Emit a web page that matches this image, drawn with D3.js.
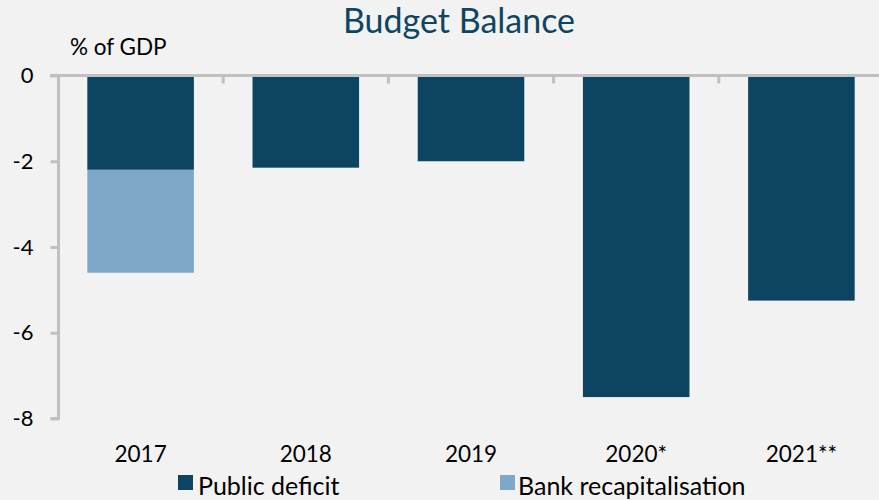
<!DOCTYPE html>
<html>
<head>
<meta charset="utf-8">
<script src="https://cdn.jsdelivr.net/npm/d3@7"></script>
<style>
  html, body { margin: 0; padding: 0; background: #f2f2f2; }
  svg { display: block; font-family: Lato, "Open Sans", sans-serif; }
</style>
</head>
<body>
<svg id="chart" width="879" height="500"></svg>
<script>
// Budget balance, % of GDP
const years = ["2017", "2018", "2019", "2020*", "2021**"];
const publicDeficit = [-2.2, -2.15, -2.0, -7.5, -5.25];
const bankRecap = [-2.4, 0, 0, 0, 0];
const yTicks = [0, -2, -4, -6, -8];
const seriesNames = ["Public deficit", "Bank recapitalisation"];
const colors = ["#0d4461", "#7fa7c9"];

const svg = d3.select("#chart");
const W = 879, H = 500;
svg.append("rect").attr("width", W).attr("height", H).attr("fill", "#f2f2f2");

const x = d3.scaleBand().domain(years).range([58, 884]).paddingInner(0.355).paddingOuter(0.1775);
const y = d3.scaleLinear().domain([-8, 0]).range([418.5, 75.5]);

const axisColor = "#c0c0c0";

// stacked rows
const rows = years.map((yr, i) => ({ year: yr, deficit: publicDeficit[i], recap: bankRecap[i] }));

// public deficit bars
svg.append("g").selectAll("rect").data(rows).join("rect")
  .attr("x", d => x(d.year))
  .attr("width", x.bandwidth())
  .attr("y", y(0))
  .attr("height", d => y(d.deficit) - y(0))
  .attr("fill", colors[0]);

// bank recapitalisation stacked below
svg.append("g").selectAll("rect").data(rows.filter(d => d.recap !== 0)).join("rect")
  .attr("x", d => x(d.year))
  .attr("width", x.bandwidth())
  .attr("y", d => y(d.deficit))
  .attr("height", d => y(d.deficit + d.recap) - y(d.deficit))
  .attr("fill", colors[1]);

// value axis
const yAxis = d3.axisLeft(y).tickValues(yTicks).tickSize(8).tickPadding(17).tickFormat(d3.format("d"));
const gy = svg.append("g").attr("transform", "translate(58.5,0)").call(yAxis);
gy.select(".domain").attr("stroke", axisColor).attr("stroke-width", 3)
  .attr("d", `M-8,${y(-8)}H0V${y(0)}`);
gy.selectAll(".tick line").attr("stroke", axisColor).attr("stroke-width", 3);
gy.selectAll(".tick text").attr("fill", "#000").attr("font-size", 22)
  .attr("font-family", "Lato, sans-serif").text(d => d === 0 ? "0" : "-" + Math.abs(d));

// zero line along the category axis
svg.append("line").attr("x1", 50).attr("x2", W).attr("y1", y(0)).attr("y2", y(0))
  .attr("stroke", axisColor).attr("stroke-width", 3);
// boundary ticks between categories
const step = x.step();
const bounds = years.slice(1).map(yr => x(yr) - x.paddingInner() * step / 2);
svg.append("g").selectAll("line").data(bounds).join("line")
  .attr("x1", d => d).attr("x2", d => d)
  .attr("y1", y(0)).attr("y2", y(0) + 8)
  .attr("stroke", axisColor).attr("stroke-width", 3);

// category labels
svg.append("g").selectAll("text").data(years).join("text")
  .attr("x", d => x(d) + x.bandwidth() / 2)
  .attr("y", 462)
  .attr("text-anchor", "middle")
  .attr("font-size", 22.5)
  .attr("fill", "#000")
  .text(d => d);

// title and unit
svg.append("text").attr("x", 459).attr("y", 33).attr("text-anchor", "middle")
  .attr("font-size", 34).attr("fill", "#0e4561").text("Budget Balance");
svg.append("text").attr("x", 70).attr("y", 55).attr("font-size", 22.5)
  .attr("fill", "#000").text("% of GDP");

// legend
const legendX = [178, 500];
const lg = svg.append("g").selectAll("g").data(seriesNames).join("g")
  .attr("transform", (d, i) => `translate(${legendX[i]},0)`);
lg.append("rect").attr("x", 0).attr("y", 475).attr("width", 15).attr("height", 15)
  .attr("fill", (d, i) => colors[i]);
lg.append("text").attr("x", (d, i) => i === 0 ? 20 : 18).attr("y", 495).attr("font-size", 25).attr("fill", "#000")
  .text(d => d);
</script>
</body>
</html>
